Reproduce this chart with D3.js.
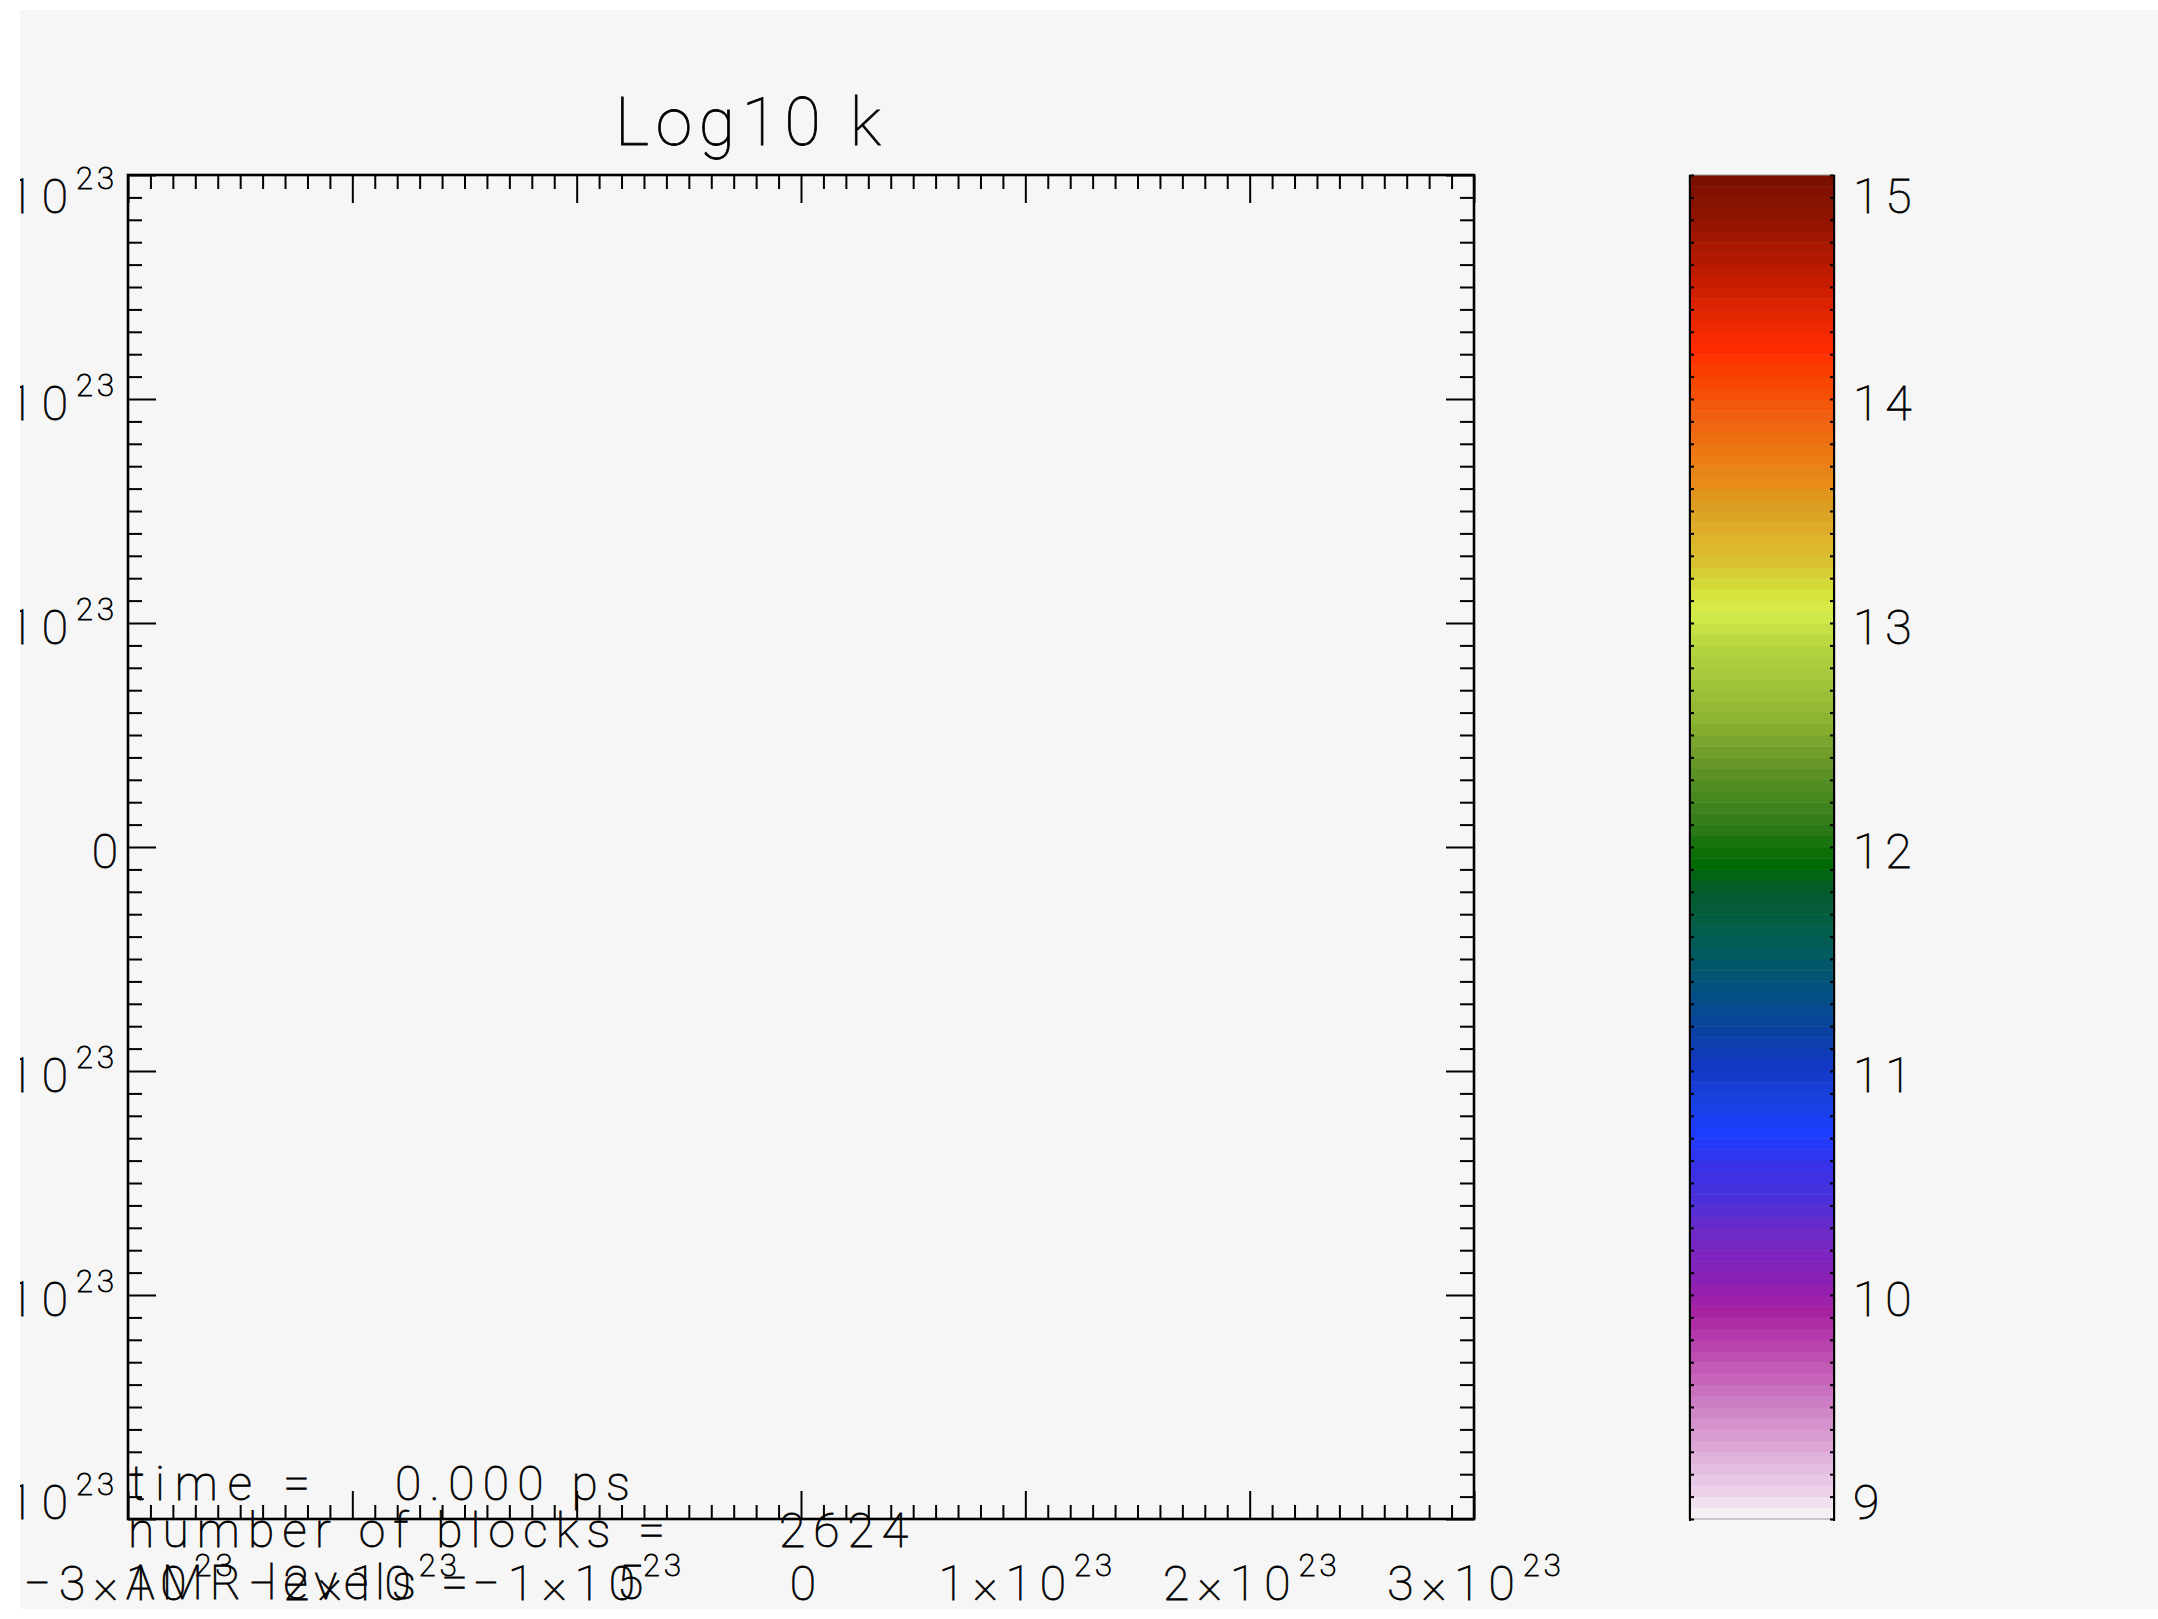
<!DOCTYPE html>
<html>
<head>
<meta charset="utf-8">
<script src="https://cdn.jsdelivr.net/npm/d3@7/dist/d3.min.js"></script>
<style>
  html, body { margin: 0; padding: 0; background: #ffffff; }
  svg { display: block; }
  text { font-family: Roboto, "DejaVu Sans", sans-serif; font-weight: 100; fill: #000; stroke: #000; stroke-width: 0.8px; }
</style>
</head>
<body>
<svg id="chart" width="2158" height="1619"></svg>
<script>
// ---- chart content -------------------------------------------------------
const title = "Log10 k";
const exponent = 23;                         // axes are in units of 10^23
const xDomain = [-3, 3];
const yDomain = [-3, 3];
const xTickValues = [-3, -2, -1, 0, 1, 2, 3];
const yTickValues = [-3, -2, -1, 0, 1, 2, 3];
const minorStep = 0.1;

// colour bar: log10 k from 9 to 15
const colorbarDomain = [9, 15];
const colorbarTicks = [9, 10, 11, 12, 13, 14, 15];
const colorbarBands = 120;
const colorStopValues = [
  9.00, 9.04, 9.13, 9.23, 9.38, 9.53, 9.68, 9.83, 9.92, 10.05, 10.20, 10.30,
  10.42, 10.57, 10.72, 10.87, 11.02, 11.17, 11.32, 11.50, 11.64, 11.79, 11.94,
  12.09, 12.24, 12.39, 12.54, 12.69, 12.91, 13.05, 13.15, 13.25, 13.40, 13.55,
  13.62, 13.77, 13.92, 14.07, 14.23, 14.37, 14.52, 14.67, 14.81, 15.00
];
const colorStopColors = [
  "#f6f4f6", "#f4eaf3", "#ecd0ea", "#e4bce0", "#d89ad0", "#cc7cc4", "#c258b4", "#b438aa", "#a822a2", "#8e20b2", "#7a26c0", "#6a2ac8",
  "#4c30d8", "#3a32e8", "#1c3cff", "#1840e0", "#1238c4", "#0a40a2", "#044e88", "#025a64", "#035e48", "#045a2e", "#006c00",
  "#2e7a18", "#4a8a20", "#6a9828", "#88b030", "#9cc038", "#b8d840", "#d6ec4c", "#d4e03a", "#d8c632", "#deb02a", "#dc9a20",
  "#e88c18", "#ec7812", "#f06010", "#f84800", "#ff2a00", "#e42600", "#c81c00", "#aa1800", "#901400", "#780e00"
];

// info block in the lower left corner
const infoLabels = ["time =", "number of blocks =", "AMR levels ="];
const infoValues = ["0.000 ps", "2624", "5"];

// ---- layout ----------------------------------------------------------------
const W = 2158, H = 1619;
const bg = "#f6f6f6";
const canvas = { x: 20, y: 10, w: W - 20, h: 1599 };
const plot = { left: 128, right: 1474, top: 175, bottom: 1519 };
const bar = { left: 1690, right: 1834, top: 175, bottom: 1519 };

const root = d3.select("#chart");
root.append("rect").attr("x", 0).attr("y", 0).attr("width", W).attr("height", H).attr("fill", "#ffffff");
root.append("clipPath").attr("id", "canvas-clip")
  .append("rect").attr("x", canvas.x).attr("y", canvas.y).attr("width", canvas.w).attr("height", canvas.h);

// everything is drawn onto the grey canvas and clipped to it
const svg = root.append("g").attr("clip-path", "url(#canvas-clip)");
svg.append("rect").attr("x", canvas.x).attr("y", canvas.y).attr("width", canvas.w).attr("height", canvas.h).attr("fill", bg);

const x = d3.scaleLinear().domain(xDomain).range([plot.left, plot.right]);
const y = d3.scaleLinear().domain(yDomain).range([plot.bottom, plot.top]);

const minorTicks = d3.range(Math.round((xDomain[1] - xDomain[0]) / minorStep) + 1)
  .map(i => +(xDomain[0] + i * minorStep).toFixed(2))
  .filter(v => Math.abs(v - Math.round(v)) > 1e-6);

// ticks on all four sides, pointing into the plot
function tickAxis(axisFn, scale, values, size, transform) {
  const g = svg.append("g").attr("transform", transform)
    .call(axisFn(scale).tickValues(values).tickSize(size).tickSizeOuter(0).tickFormat(""));
  g.select(".domain").remove();
  g.selectAll(".tick line").attr("stroke", "#000").attr("stroke-width", 2);
  return g;
}
const majorLen = 28, minorLen = 14;
tickAxis(d3.axisBottom, x, minorTicks, -minorLen, `translate(0,${plot.bottom})`);
tickAxis(d3.axisBottom, x, xTickValues, -majorLen, `translate(0,${plot.bottom})`);
tickAxis(d3.axisTop, x, minorTicks, -minorLen, `translate(0,${plot.top})`);
tickAxis(d3.axisTop, x, xTickValues, -majorLen, `translate(0,${plot.top})`);
tickAxis(d3.axisLeft, y, minorTicks, -minorLen, `translate(${plot.left},0)`);
tickAxis(d3.axisLeft, y, yTickValues, -majorLen, `translate(${plot.left},0)`);
tickAxis(d3.axisRight, y, minorTicks, -minorLen, `translate(${plot.right},0)`);
tickAxis(d3.axisRight, y, yTickValues, -majorLen, `translate(${plot.right},0)`);

// frame
svg.append("rect")
  .attr("x", plot.left).attr("y", plot.top)
  .attr("width", plot.right - plot.left).attr("height", plot.bottom - plot.top)
  .attr("fill", "none").attr("stroke", "#000").attr("stroke-width", 2.6);

// tick label helper: a×10^23 with a raised exponent
const mainSize = 48, supSize = 31;
function sciLabel(sel, v) {
  if (v === 0) { sel.text("0"); return; }
  const sign = v < 0 ? "\u2212" : "";
  sel.append("tspan").attr("letter-spacing", 8).text(`${sign}${Math.abs(v)}\u00d710`);
  sel.append("tspan").attr("dy", -24).attr("font-size", supSize).attr("letter-spacing", 4).text(exponent);
}

// x tick labels
svg.append("g").selectAll("text").data(xTickValues).join("text")
  .attr("x", d => x(d) + 2).attr("y", 1600)
  .attr("text-anchor", "middle")
  .attr("font-size", mainSize)
  .each(function (d) { sciLabel(d3.select(this), d); });

// vertical placement of labels along a vertical axis: centred on the tick,
// end labels kept inside the axis span
function labelBaseline(py, top, bottom) {
  const c = Math.max(top + 21, Math.min(bottom - 17, py + 4));
  return c + 17;
}

// y tick labels
svg.append("g").selectAll("text").data(yTickValues).join("text")
  .attr("x", 118).attr("y", d => labelBaseline(y(d), plot.top, plot.bottom))
  .attr("text-anchor", "end")
  .attr("font-size", mainSize)
  .each(function (d) { sciLabel(d3.select(this), d); });

// title
svg.append("text")
  .attr("x", 615).attr("y", 145)
  .attr("font-size", 66)
  .attr("textLength", 266).attr("lengthAdjust", "spacing")
  .text(title);

// info block
const infoBaselines = [1500, 1547, 1599];
const infoLabelX = [130, 128, 126];
const infoLabelLen = [180, 537, 342];
const infoValueX = [395, 779, 617];
const infoValueLen = [235, 129, 25];
infoLabels.forEach((lab, i) => {
  svg.append("text").attr("x", infoLabelX[i]).attr("y", infoBaselines[i])
    .attr("font-size", mainSize)
    .attr("textLength", infoLabelLen[i]).attr("lengthAdjust", "spacing")
    .text(lab);
  const v = svg.append("text").attr("x", infoValueX[i]).attr("y", infoBaselines[i])
    .attr("font-size", mainSize).text(infoValues[i]);
  if (infoValues[i].length > 1) v.attr("textLength", infoValueLen[i]).attr("lengthAdjust", "spacing");
});

// ---- colour bar -------------------------------------------------------------
const color = d3.scaleLinear().domain(colorStopValues).range(colorStopColors)
  .interpolate(d3.interpolateRgb).clamp(true);
const cy = d3.scaleLinear().domain(colorbarDomain).range([bar.bottom, bar.top]);
const bandStep = (colorbarDomain[1] - colorbarDomain[0]) / colorbarBands;
const bands = d3.range(colorbarBands).map(i => colorbarDomain[0] + i * bandStep);

svg.append("g").selectAll("rect").data(bands).join("rect")
  .attr("x", bar.left)
  .attr("y", d => cy(d + bandStep))
  .attr("width", bar.right - bar.left)
  .attr("height", d => cy(d) - cy(d + bandStep) + 0.5)
  .attr("fill", d => color(d + bandStep / 2));

svg.append("rect")
  .attr("x", bar.left - 1).attr("y", bar.top)
  .attr("width", bar.right - bar.left + 2).attr("height", bar.bottom - bar.top)
  .attr("fill", "none").attr("stroke", "#9a9a9a").attr("stroke-width", 1);

const barMinor = d3.range(61).map(i => +(colorbarDomain[0] + i * 0.1).toFixed(1));
[bar.left, bar.right].forEach((bx, k) => {
  svg.append("line").attr("x1", bx).attr("x2", bx).attr("y1", bar.top).attr("y2", bar.bottom + 2)
    .attr("stroke", "#000").attr("stroke-width", 2);
  const g = svg.append("g").attr("transform", `translate(${bx},0)`)
    .call((k === 0 ? d3.axisLeft(cy) : d3.axisRight(cy))
      .tickValues(barMinor).tickSize(-4).tickSizeOuter(0).tickFormat(""));
  g.select(".domain").remove();
  g.selectAll(".tick line").attr("stroke", "#000").attr("stroke-width", 2);
});

svg.append("g").selectAll("text").data(colorbarTicks).join("text")
  .attr("x", 1853).attr("y", d => labelBaseline(cy(d), bar.top, bar.bottom))
  .attr("font-size", mainSize)
  .attr("letter-spacing", 6)
  .text(d => d);
</script>
</body>
</html>
